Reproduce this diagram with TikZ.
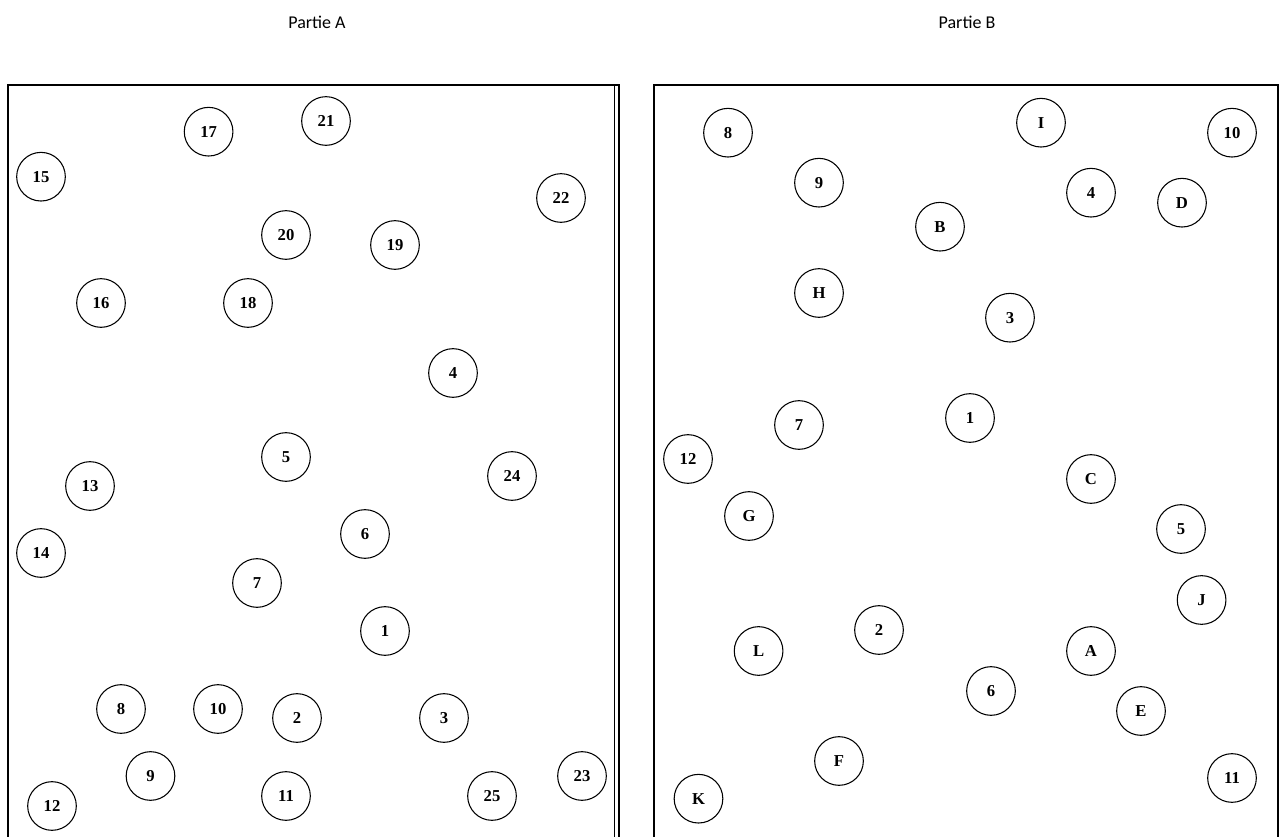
\documentclass[tikz,border=0pt]{standalone}
\usepackage{fontspec}
\setmainfont{Liberation Serif}
\newfontfamily\titlefont{Carlito}
\usepackage{tikz}
\usetikzlibrary{positioning}

\begin{document}
\begin{tikzpicture}[
    x=0.75pt, y=-0.75pt,
    spot/.style={circle, draw=black, line width=0.8pt, minimum size=36.5pt,
                 inner sep=0pt, font=\fontsize{12.5}{14}\selectfont\bfseries, text=black},
    title/.style={font=\titlefont\fontsize{13.5}{16}\selectfont, text=black},
    frame/.style={draw=black, line width=1.3pt},
    edge/.style={draw=black, line width=1.2pt}
]
\useasboundingbox (0,0) rectangle (1282,837);
% titles
\node[title] (ta) at (317,22) {Partie A};
\node[title] (tb) at (967,22) {Partie B};
% frames
\draw[frame] (8,845) -- (8,85) -- (619,85) -- (619,845);
\draw[edge] (614.5,86) -- (614.5,845);
\draw[frame] (654,845) -- (654,85) -- (1278,85) -- (1278,845);
% Partie A
\node[spot] (a17) at (208.6,131.7) {17};
\node[spot] (a21) at (326,121) {21};
\node[spot] (a15) at (41,176.7) {15};
\node[spot] (a22) at (561,198) {22};
\node[spot] (a20) at (286,235) {20};
\node[spot] (a19) at (395,245) {19};
\node[spot] (a16) at (101,303) {16};
\node[spot] (a18) at (248,303) {18};
\node[spot] (a4) at (453,373) {4};
\node[spot] (a5) at (286,457) {5};
\node[spot] (a13) at (90,486) {13};
\node[spot] (a24) at (512,476) {24};
\node[spot] (a6) at (365,534) {6};
\node[spot] (a14) at (41,553) {14};
\node[spot] (a7) at (257,583) {7};
\node[spot] (a1) at (385,631) {1};
\node[spot] (a8) at (121,709) {8};
\node[spot] (a10) at (218,709) {10};
\node[spot] (a2) at (297,718) {2};
\node[spot] (a3) at (444,718) {3};
\node[spot] (a9) at (150.5,776) {9};
\node[spot] (a23) at (582,776) {23};
\node[spot] (a11) at (286,796) {11};
\node[spot] (a25) at (492,796) {25};
\node[spot] (a12) at (52,806) {12};
% Partie B
\node[spot] (b8) at (728,132.7) {8};
\node[spot] (bI) at (1041,122.7) {I};
\node[spot] (b10) at (1232,132.7) {10};
\node[spot] (b9) at (819,182.7) {9};
\node[spot] (b4) at (1091,192.7) {4};
\node[spot] (bD) at (1182,202.7) {D};
\node[spot] (bB) at (940,226.7) {B};
\node[spot] (bH) at (819,293) {H};
\node[spot] (b3) at (1010,317.7) {3};
\node[spot] (b7) at (799,425) {7};
\node[spot] (b1) at (970,418) {1};
\node[spot] (b12) at (688,459) {12};
\node[spot] (bC) at (1091,479) {C};
\node[spot] (bG) at (749,516) {G};
\node[spot] (b5) at (1181,529) {5};
\node[spot] (bJ) at (1201.6,600) {J};
\node[spot] (b2) at (879,630) {2};
\node[spot] (bL) at (758.6,651) {L};
\node[spot] (bA) at (1091,651) {A};
\node[spot] (b6) at (991,691) {6};
\node[spot] (bE) at (1141,711) {E};
\node[spot] (bF) at (839,761) {F};
\node[spot] (b11) at (1232,778) {11};
\node[spot] (bK) at (698.5,798.7) {K};
\end{tikzpicture}
\end{document}
